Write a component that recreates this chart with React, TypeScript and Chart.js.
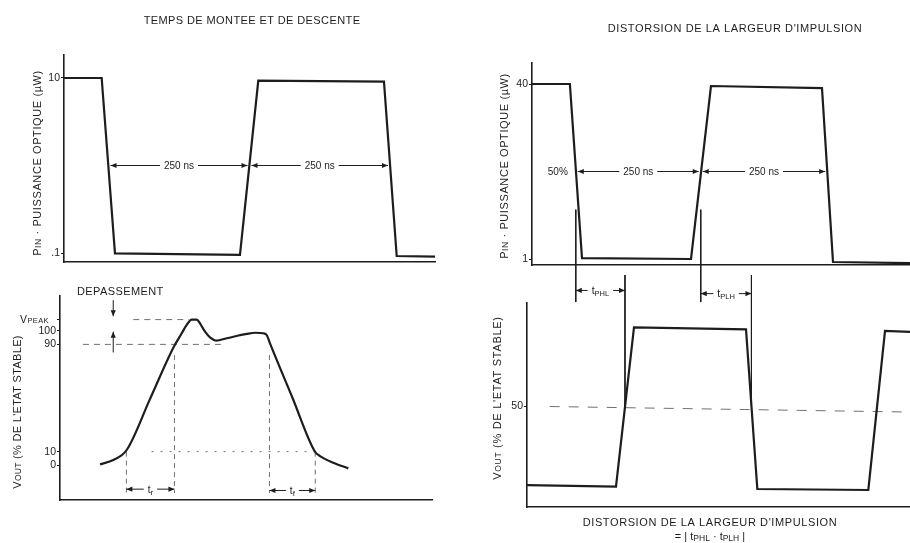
import React, { useEffect, useRef } from 'react';
import { Chart, registerables } from 'chart.js';

Chart.register(...registerables);

// ================= DATA (time axis in ns) =================
// Left column: "TEMPS DE MONTEE ET DE DESCENTE"
// Top-left: input optical power PIN (µW)
const tlTime = [0, 66, 89.3, 308.3, 340.4, 560.6, 582.9, 650];
const tlPower = [10, 10, 0.08, -0.01, 9.85, 9.79, -0.07, -0.11];
const tlTickValues = [0.1, 10];
const tlTickLabels = ['.1', '10'];
const tlCrossings = [78, 325, 571]; // 50 % crossings
const tlHalfLevel = 5.05;
const tlIntervalLabels = ['250 ns', '250 ns'];

// Bottom-left: output VOUT (% of steady state) with overshoot
const blTime = [70, 93, 116.5, 157, 198, 212.7, 221.4, 230.1, 238.9, 244.6, 253.4, 262.1, 273.8, 279.6, 302.8, 326.2, 340.7, 355.2, 361.2, 366.9, 406, 445.6, 454.3, 477.5, 503.8];
const blVout = [0.5, 3.7, 11.2, 49, 87.5, 98.3, 104.5, 108.5, 108.5, 105.7, 99.5, 95.3, 92.8, 93.3, 95.7, 97.8, 98.7, 98.3, 97.0, 90.8, 50.4, 9.9, 6.7, 1.7, -2.5];
const blTickValues = [0, 10, 90, 100, 108.5];
const blTickLabels = ['0', '10', '90', '100', '']; // VPEAK drawn with subscript
const blPeak = 108.5;
const blMarks = [116, 200, 366, 446]; // 10 %, 90 % (rise) ; 90 %, 10 % (fall)
const blGuideTops = [10, 82, 82, 10];
const blGuideBottom = -21;
const blPeakGuide = [128, 225];
const bl90Guide = [40, 288];
const bl10Guide = [160, 445];
const blOvershootX = 93;
const blOvershootTail = [123, 84];
const blOvershootTip = [111, 99.5];
const blTimeLabelLevels = [-18, -19];

// Right column: "DISTORSION DE LA LARGEUR D'IMPULSION"
// Top-right: input optical power PIN (µW)
const trTime = [0, 77, 101.6, 323.2, 363.8, 589.4, 611.8, 768.3];
const trPower = [40, 40, 1.2, 1, 39.55, 39.1, 0.33, 0.1];
const trTickValues = [1, 40];
const trTickLabels = ['1', '40'];
const trCrossings = [89, 343, 600];
const trHalfLevel = 20.5;
const trGuide = [12, -8.6];
const trIntervalLabels = ['250 ns', '250 ns'];

// Bottom-right: output VOUT (%)
const brTime = [-10.16, 170.7, 207.3, 435, 458, 683.6, 717.5, 768.3];
const brVout = [0.6, -0.4, 99.8, 98.5, -1.9, -2.5, 97.5, 97];
const brTickValues = [50];
const brTickLabels = ['50'];
const brCrossings = [189, 446];
const brGuideTop = 132.7;
const brMidX = [36, 768.3];
const brMidY = [50, 46.5];
const brDelayLevels = [123, 121];

// ================= STYLE / HELPERS =================
const FONT = '"Liberation Sans", Arial, Helvetica, sans-serif';
const INK = '#1d1d1d';
const GUIDE = '#707070';

type Run = { t: string; s?: number; dy?: number };
type TextOpts = { size?: number; align?: 'left' | 'center' | 'right'; rotate?: boolean; ls?: number };

function toRuns(r: Run[] | string): Run[] {
  return typeof r === 'string' ? [{ t: r }] : r;
}

function measureRuns(ctx: CanvasRenderingContext2D, runs: Run[], size: number, ls: number) {
  let w = 0;
  for (const r of runs) {
    ctx.font = `${r.s ?? size}px ${FONT}`;
    (ctx as any).letterSpacing = `${ls}px`;
    w += ctx.measureText(r.t).width;
  }
  return w;
}

function drawText(ctx: CanvasRenderingContext2D, label: Run[] | string, x: number, y: number, o: TextOpts = {}) {
  const runs = toRuns(label);
  const size = o.size ?? 10.5;
  const ls = o.ls ?? 0;
  ctx.save();
  ctx.translate(x, y);
  if (o.rotate) ctx.rotate(-Math.PI / 2);
  const w = measureRuns(ctx, runs, size, ls);
  let cx = o.align === 'left' ? 0 : o.align === 'right' ? -w : -w / 2;
  ctx.fillStyle = INK;
  ctx.textAlign = 'left';
  ctx.textBaseline = 'alphabetic';
  const base = size * 0.36;
  for (const r of runs) {
    ctx.font = `${r.s ?? size}px ${FONT}`;
    (ctx as any).letterSpacing = `${ls}px`;
    ctx.fillText(r.t, cx, base + (r.dy ?? 0));
    cx += ctx.measureText(r.t).width;
  }
  ctx.restore();
  return w;
}

function head(ctx: CanvasRenderingContext2D, x: number, y: number, dir: 'left' | 'right' | 'up' | 'down') {
  const L = 6, W = 2.6;
  ctx.beginPath();
  if (dir === 'left') { ctx.moveTo(x, y); ctx.lineTo(x + L, y - W); ctx.lineTo(x + L, y + W); }
  else if (dir === 'right') { ctx.moveTo(x, y); ctx.lineTo(x - L, y - W); ctx.lineTo(x - L, y + W); }
  else if (dir === 'down') { ctx.moveTo(x, y); ctx.lineTo(x - W, y - L); ctx.lineTo(x + W, y - L); }
  else { ctx.moveTo(x, y); ctx.lineTo(x - W, y + L); ctx.lineTo(x + W, y + L); }
  ctx.closePath();
  ctx.fill();
}

function dim(ctx: CanvasRenderingContext2D, x1: number, x2: number, y: number, label: Run[] | string, size: number) {
  const runs = toRuns(label);
  const w = measureRuns(ctx, runs, size, 0);
  const mid = (x1 + x2) / 2;
  const gap = 4;
  ctx.save();
  ctx.strokeStyle = INK;
  ctx.fillStyle = INK;
  ctx.lineWidth = 1;
  ctx.beginPath();
  ctx.moveTo(x1, y); ctx.lineTo(mid - w / 2 - gap, y);
  ctx.moveTo(mid + w / 2 + gap, y); ctx.lineTo(x2, y);
  ctx.stroke();
  head(ctx, x1, y, 'left');
  head(ctx, x2, y, 'right');
  ctx.restore();
  drawText(ctx, runs, mid, y, { size });
}

const pts = (xs: number[], ys: number[]) => xs.map((x, i) => ({ x, y: ys[i] }));
const wave = (data: any[], extra: any = {}) => ({ data, borderColor: INK, borderWidth: 2.2, pointRadius: 0, fill: false, tension: 0, ...extra });
const guide = (data: any[], dash: number[], extra: any = {}) => ({ data, borderColor: GUIDE, borderWidth: 1, borderDash: dash, pointRadius: 0, fill: false, tension: 0, ...extra });

function makeConfig(o: {
  area: { left: number; top: number; right: number; bottom: number };
  x: [number, number];
  y: [number, number];
  ticks: number[];
  labels: string[];
  datasets: any[];
  draw: (chart: any) => void;
}): any {
  return {
    type: 'line',
    data: { datasets: o.datasets },
    options: {
      responsive: false,
      animation: false,
      devicePixelRatio: 1,
      events: [],
      layout: { padding: { left: 0, top: o.area.top, right: o.area.right, bottom: o.area.bottom }, autoPadding: false },
      plugins: { legend: { display: false }, tooltip: { enabled: false }, title: { display: false } },
      scales: {
        x: {
          type: 'linear', min: o.x[0], max: o.x[1],
          afterFit: (s: any) => { s.height = 0; },
          ticks: { display: false },
          grid: { display: false },
          border: { display: true, color: INK, width: 1.6 },
        },
        y: {
          type: 'linear', min: o.y[0], max: o.y[1], position: 'left',
          afterFit: (s: any) => { s.width = o.area.left; },
          afterBuildTicks: (s: any) => { s.ticks = o.ticks.map((v) => ({ value: v })); },
          ticks: {
            callback: (_v: any, i: number) => o.labels[i] ?? '',
            font: { family: FONT, size: 10.5 },
            color: INK,
            padding: 1,
          },
          grid: { display: true, drawOnChartArea: false, drawTicks: true, tickLength: 3, color: INK, lineWidth: 1 },
          border: { display: true, color: INK, width: 1.6 },
        },
      },
    },
    plugins: [{ id: 'annot', afterDraw: (chart: any) => o.draw(chart) }],
  };
}

const RIGHT_TITLE = "DISTORSION DE LA LARGEUR D'IMPULSION";
const VOUT_TITLE: Run[] = [{ t: 'V' }, { t: 'OUT', s: 8.5 }, { t: " (% DE L'ETAT STABLE)" }];
const PIN_TITLE: Run[] = [{ t: 'P' }, { t: 'IN', s: 8.5 }, { t: ' · PUISSANCE OPTIQUE (µW)' }];

export default function App() {
  const r1 = useRef<HTMLCanvasElement>(null);
  const r2 = useRef<HTMLCanvasElement>(null);
  const r3 = useRef<HTMLCanvasElement>(null);
  const r4 = useRef<HTMLCanvasElement>(null);

  useEffect(() => {
    const charts: Chart[] = [];

    // ---- Top-left ----
    charts.push(new Chart(r1.current!, makeConfig({
      area: { left: 64, top: 55, right: 475, bottom: 281 },
      x: [0, 650],
      y: [-0.409, 11.301],
      ticks: tlTickValues,
      labels: tlTickLabels,
      datasets: [wave(pts(tlTime, tlPower))],
      draw: (chart) => {
        const { ctx } = chart;
        const sx = chart.scales.x, sy = chart.scales.y;
        drawText(ctx, 'TEMPS DE MONTEE ET DE DESCENTE', 252, 20, { size: 11, ls: 0.4 });
        drawText(ctx, PIN_TITLE, 37, 163, { size: 11, rotate: true, ls: 0.6 });
        const y = sy.getPixelForValue(tlHalfLevel);
        for (let i = 0; i < tlIntervalLabels.length; i++) {
          dim(ctx, sx.getPixelForValue(tlCrossings[i]) + 2, sx.getPixelForValue(tlCrossings[i + 1]) - 2, y, tlIntervalLabels[i], 10);
        }
      },
    })));

    // ---- Bottom-left ----
    const blDatasets: any[] = [wave(pts(blTime, blVout), { cubicInterpolationMode: 'monotone' })];
    blMarks.forEach((m, i) => blDatasets.push(guide(pts([m, m], [blGuideTops[i], blGuideBottom]), [5, 4])));
    blDatasets.push(guide(pts(blPeakGuide, [blPeak, blPeak]), [6, 5]));
    blDatasets.push(guide(pts(bl90Guide, [90, 90]), [6, 5]));
    blDatasets.push(guide(pts(bl10Guide, [10, 10]), [2, 7]));
    charts.push(new Chart(r2.current!, makeConfig({
      area: { left: 60, top: 296, right: 478, bottom: 43 },
      x: [0, 650],
      y: [-26.1, 126.1],
      ticks: blTickValues,
      labels: blTickLabels,
      datasets: blDatasets,
      draw: (chart) => {
        const { ctx, chartArea } = chart;
        const sx = chart.scales.x, sy = chart.scales.y;
        drawText(ctx, 'DEPASSEMENT', 77, 291, { size: 11, align: 'left', ls: 0.4 });
        drawText(ctx, VOUT_TITLE, 17, 412, { size: 11, rotate: true, ls: 0.3 });
        drawText(ctx, [{ t: 'V' }, { t: 'PEAK', s: 7.5 }], chartArea.left - 11, sy.getPixelForValue(blPeak), { size: 10.5, align: 'right', ls: 0.4 });
        // overshoot arrows
        const ox = sx.getPixelForValue(blOvershootX);
        ctx.save();
        ctx.strokeStyle = INK; ctx.fillStyle = INK; ctx.lineWidth = 1;
        ctx.beginPath();
        ctx.moveTo(ox, sy.getPixelForValue(blOvershootTail[0]));
        ctx.lineTo(ox, sy.getPixelForValue(blOvershootTip[0]));
        ctx.moveTo(ox, sy.getPixelForValue(blOvershootTail[1]));
        ctx.lineTo(ox, sy.getPixelForValue(blOvershootTip[1]));
        ctx.stroke();
        head(ctx, ox, sy.getPixelForValue(blOvershootTip[0]), 'down');
        head(ctx, ox, sy.getPixelForValue(blOvershootTip[1]), 'up');
        ctx.restore();
        dim(ctx, sx.getPixelForValue(blMarks[0]), sx.getPixelForValue(blMarks[1]), sy.getPixelForValue(blTimeLabelLevels[0]), [{ t: 't' }, { t: 'r', s: 8, dy: 2 }], 10);
        dim(ctx, sx.getPixelForValue(blMarks[2]), sx.getPixelForValue(blMarks[3]), sy.getPixelForValue(blTimeLabelLevels[1]), [{ t: 't' }, { t: 'f', s: 8, dy: 2 }], 10);
      },
    })));

    // ---- Top-right ----
    const trDatasets: any[] = [wave(pts(trTime, trPower))];
    trCrossings.slice(0, 2).forEach((m) => trDatasets.push({ ...guide(pts([m, m], trGuide), []), borderColor: INK, clip: false }));
    charts.push(new Chart(r3.current!, makeConfig({
      area: { left: 532, top: 63, right: 0, bottom: 278 },
      x: [0, 768.3],
      y: [-0.337, 44.68],
      ticks: trTickValues,
      labels: trTickLabels,
      datasets: trDatasets,
      draw: (chart) => {
        const { ctx } = chart;
        const sx = chart.scales.x, sy = chart.scales.y;
        drawText(ctx, RIGHT_TITLE, 735, 28, { size: 11, ls: 0.6 });
        drawText(ctx, PIN_TITLE, 504, 166, { size: 11, rotate: true, ls: 0.6 });
        const y = sy.getPixelForValue(trHalfLevel);
        drawText(ctx, '50%', sx.getPixelForValue(trCrossings[0]) - 8, y, { size: 10, align: 'right' });
        for (let i = 0; i < trIntervalLabels.length; i++) {
          dim(ctx, sx.getPixelForValue(trCrossings[i]) + 2, sx.getPixelForValue(trCrossings[i + 1]) - 2, y, trIntervalLabels[i], 10);
        }
      },
    })));

    // ---- Bottom-right ----
    const brDatasets: any[] = [wave(pts(brTime, brVout))];
    brCrossings.forEach((m) => brDatasets.push({ ...guide(pts([m, m], [brGuideTop, 50]), []), borderColor: INK, clip: false }));
    brDatasets.push(guide(pts(brMidX, brMidY), [10, 9]));
    charts.push(new Chart(r4.current!, makeConfig({
      area: { left: 527, top: 303, right: 0, bottom: 36 },
      x: [-10.16, 768.3],
      y: [-13.2, 115.1],
      ticks: brTickValues,
      labels: brTickLabels,
      datasets: brDatasets,
      draw: (chart) => {
        const { ctx } = chart;
        const sx = chart.scales.x, sy = chart.scales.y;
        drawText(ctx, VOUT_TITLE, 497, 398, { size: 11, rotate: true, ls: 0.7 });
        dim(ctx, sx.getPixelForValue(trCrossings[0]), sx.getPixelForValue(brCrossings[0]), sy.getPixelForValue(brDelayLevels[0]), [{ t: 't' }, { t: 'PHL', s: 7.5, dy: 1.5 }], 10.5);
        dim(ctx, sx.getPixelForValue(trCrossings[1]), sx.getPixelForValue(brCrossings[1]), sy.getPixelForValue(brDelayLevels[1]), [{ t: 't' }, { t: 'PLH', s: 7.5, dy: 1.5 }], 10.5);
        drawText(ctx, RIGHT_TITLE, 710, 522, { size: 11, ls: 0.6 });
        drawText(ctx, [{ t: '= | t' }, { t: 'PHL', s: 8.5, dy: 1.5 }, { t: ' · t' }, { t: 'PLH', s: 8.5, dy: 1.5 }, { t: ' |' }], 710, 536, { size: 11 });
      },
    })));

    return () => charts.forEach((c) => c.destroy());
  }, []);

  const cs: React.CSSProperties = { position: 'absolute', left: 0, top: 0 };
  return (
    <div style={{ position: 'absolute', left: 0, top: 0, width: 910, height: 543, background: '#fff' }}>
      <canvas ref={r1} width={910} height={543} style={cs} />
      <canvas ref={r2} width={910} height={543} style={cs} />
      <canvas ref={r3} width={910} height={543} style={cs} />
      <canvas ref={r4} width={910} height={543} style={cs} />
    </div>
  );
}
